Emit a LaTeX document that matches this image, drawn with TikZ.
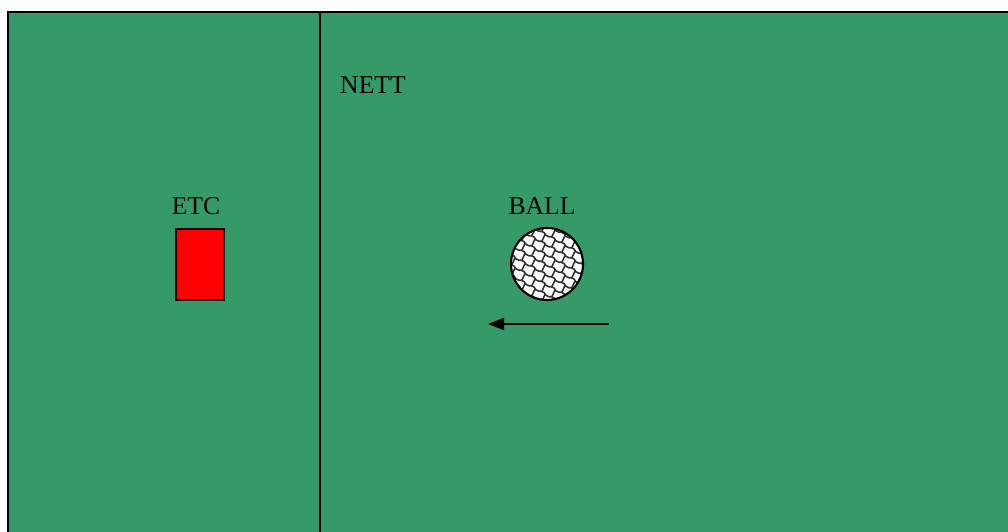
\documentclass[tikz,border=0pt]{standalone}
\usepackage{fontspec}
\setmainfont{Liberation Serif}
\usetikzlibrary{arrows.meta,positioning,calc}

\definecolor{court}{RGB}{54,153,104}

\begin{document}
\begin{tikzpicture}[>=Stealth,line cap=round,
	lbl/.style={font=\fontsize{7.3}{9}\selectfont,inner sep=0pt}]
	
	% ===== 画布：1008 x 532 px，1 px = 0.01 cm =====
	\useasboundingbox (0,0) rectangle (10.08,5.32);
	\clip (0,0) rectangle (10.08,5.32);
	
	% ---- 场地 ----
	\draw[fill=court,line width=0.6pt] (0.08,5.20) rectangle (10.30,-0.20);
	
	% ---- 网 ----
	\coordinate (nettop) at (3.20,5.20);
	\coordinate (netbot) at (3.20,-0.20);
	\draw[line width=0.6pt] (nettop) -- (netbot);
	\node[lbl] (nett) at (3.73,4.47) {NETT};
	
	% ---- ETC 红块 ----
	\node[draw,fill=red,line width=0.6pt,minimum width=0.48cm,minimum height=0.71cm,inner sep=0pt]
	(etc) at (2.00,2.675) {};
	\node[lbl] (etclbl) at (1.96,3.26) {ETC};
	
	% ---- 球：白底网纹 ----
	\def\r{0.36}
	\node[circle,minimum size=0.72cm,inner sep=0pt] (ball) at (5.47,2.68) {};
	\fill[white] (ball.center) circle (\r);
	\begin{scope}[shift={(ball.center)}]
		\clip (0,0) circle (\r);
		% 斜向的阶梯波纹线
		\foreach \j in {-9,...,9}{
			\draw[line width=0.45pt,black!80,rounded corners=0.02cm]
			(-0.6,0.3+0.1*\j)
			\foreach \i in {1,...,10}{ -- ++(0.06,0.005) -- ++(0.04,-0.06) };
		}
		% 连接短笔画
		\foreach \j in {-9,...,9}{
			\foreach \i in {0,...,9}{
				\draw[line width=0.45pt,black!80]
				(-0.6+0.1*\i+0.05,0.3+0.1*\j-0.055*\i+0.005)
				.. controls ++(0.01,0.03) and ++(-0.01,-0.03) .. ++(0.03,0.065);
			}
		}
	\end{scope}
	\draw[line width=0.6pt] (ball.center) circle (\r);
	\node[lbl] (balllbl) at (5.42,3.26) {BALL};
	
	% ---- 运动方向 ----
	\coordinate (mvfrom) at (6.08,2.08);
	\coordinate (mvto) at (4.88,2.08);
	\draw[line width=0.6pt,-{Triangle[length=0.16cm,width=0.12cm]}] (mvfrom) -- (mvto);
	
\end{tikzpicture}
\end{document}
